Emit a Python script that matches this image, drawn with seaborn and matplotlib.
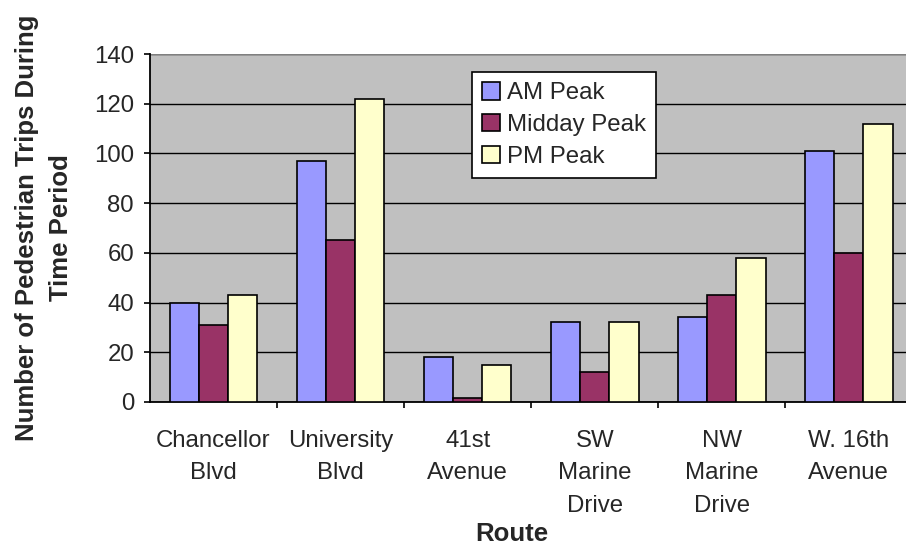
import pandas as pd
import matplotlib.pyplot as plt
import seaborn as sns

routes = ["Chancellor\nBlvd", "University\nBlvd", "41st\nAvenue",
          "SW\nMarine\nDrive", "NW\nMarine\nDrive", "W. 16th\nAvenue"]
periods = ["AM Peak", "Midday Peak", "PM Peak"]
am_peak = [40, 97, 18, 32, 34, 101]
midday_peak = [31, 65, 1.5, 12, 43, 60]
pm_peak = [43, 122, 15, 32, 58, 112]
colors = ["#9999FF", "#993366", "#FFFFCC"]

rows = []
for p, vals in zip(periods, [am_peak, midday_peak, pm_peak]):
    for r, v in zip(routes, vals):
        rows.append({"route": r, "period": p, "trips": v})
df = pd.DataFrame(rows)

sns.set_style("white")
plt.rcParams["font.family"] = ["Liberation Sans", "DejaVu Sans"]
fs = 17.3
fs_lab = 18.5

fig = plt.figure(figsize=(9.06, 5.46), dpi=100)
ax = fig.add_axes([150 / 906, 144 / 546, 756 / 906, 348 / 546])
ax.set_facecolor("#C0C0C0")

sns.barplot(data=df, x="route", y="trips", hue="period", order=routes,
            hue_order=periods, palette=colors, edgecolor="black",
            linewidth=1.2, width=0.69, gap=0, saturation=1, ax=ax, zorder=3)

ax.set_ylim(0, 140)
ax.set_xlim(-0.5, 5.45)
ax.set_yticks(range(0, 141, 20))
ax.grid(axis="y", color="black", linewidth=1.0, zorder=0)
ax.set_axisbelow(True)

for s in ["top", "right"]:
    ax.spines[s].set_visible(False)
ax.spines["left"].set_color("black")
ax.spines["left"].set_linewidth(1.3)
ax.spines["bottom"].set_color("black")
ax.spines["bottom"].set_linewidth(1.3)
ax.axhline(140, color="#808080", linewidth=1.5, zorder=1)

ax.tick_params(axis="y", length=4.5, width=1.2, color="black", pad=7,
               labelsize=fs, left=True)
ax.set_xticks(range(len(routes)))
ax.set_xticklabels(routes, fontsize=fs, linespacing=1.62)
ax.tick_params(axis="x", which="major", length=0, pad=20)
ax.set_xticks([i + 0.5 for i in range(5)], minor=True)
ax.tick_params(axis="x", which="minor", length=4.5, width=1.2,
               color="black", bottom=True)

ax.set_xlabel("Route", fontsize=fs_lab, fontweight="bold")
ax.xaxis.set_label_coords((512 - 150) / 756, -(522 - 402) / 348)
ax.set_ylabel("Number of Pedestrian Trips During\nTime Period", fontsize=fs_lab,
              fontweight="bold", linespacing=1.5)
ax.yaxis.set_label_coords(-(150 - 73) / 756, 0.5)

leg = ax.legend(loc="upper left", bbox_to_anchor=(472 / 906, 1 - 72 / 546),
                bbox_transform=fig.transFigure, borderaxespad=0,
                fancybox=False, framealpha=1, edgecolor="black",
                fontsize=fs, handlelength=0.75, handleheight=0.75,
                handletextpad=0.3, labelspacing=0.4, borderpad=0.42)
leg.get_frame().set_linewidth(1.2)
leg.set_zorder(5)

plt.savefig("out.png", dpi=100)
